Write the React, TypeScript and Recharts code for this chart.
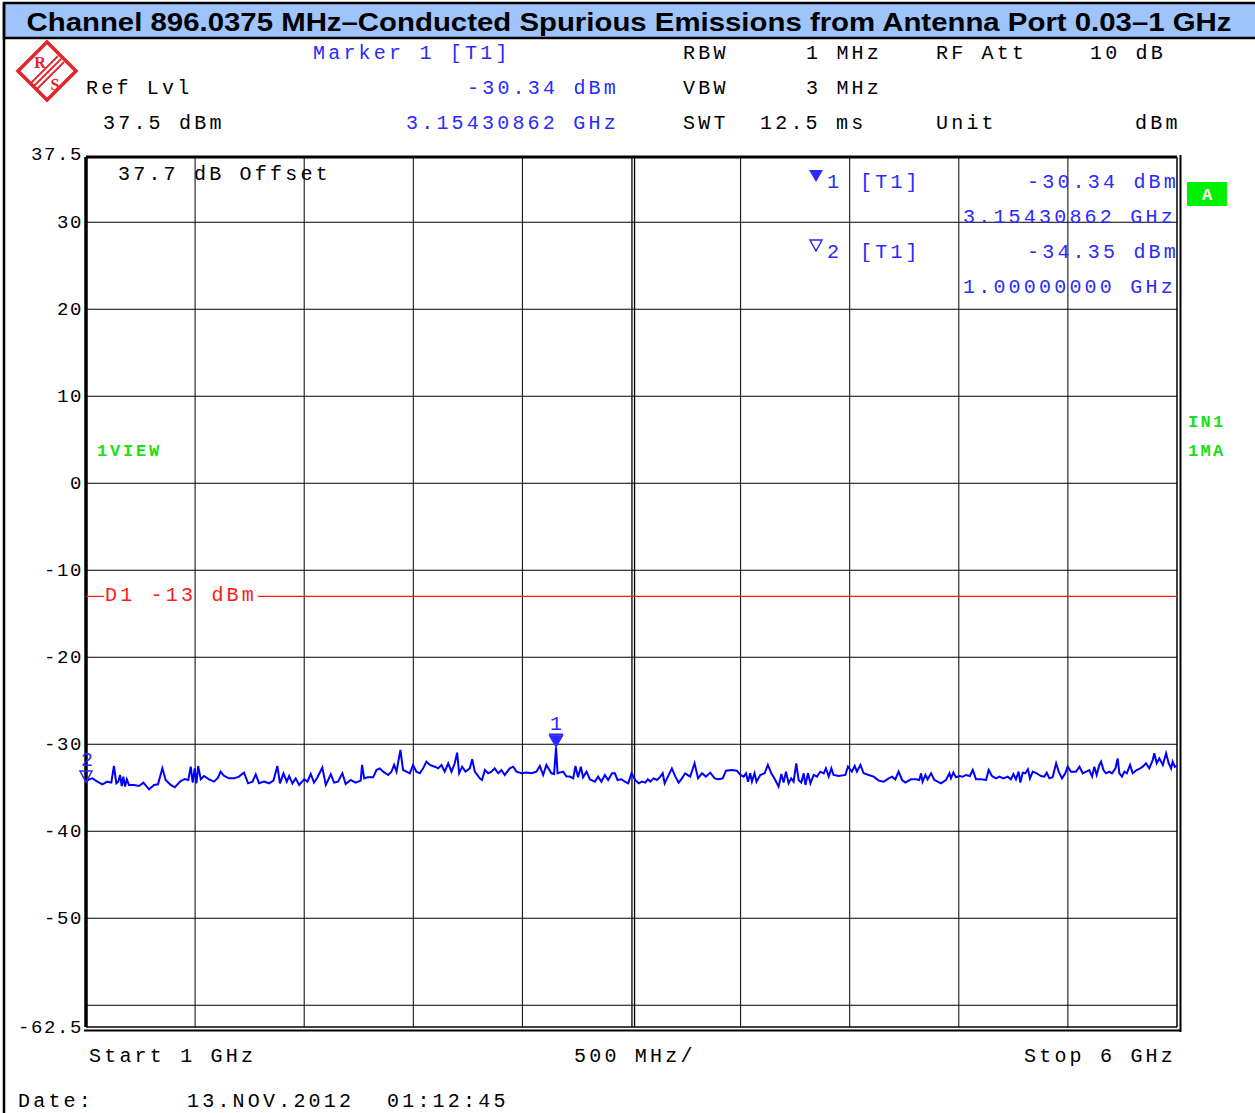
import React from "react";
import { LineChart, Line, XAxis, YAxis, ReferenceLine, ReferenceDot } from "recharts";

// ---------- data ----------
const xTicksMHz = [1000, 1500, 2000, 2500, 3000, 3500, 4000, 4500, 5000, 5500, 6000];
const yTicksDbm = [37.5, 30, 20, 10, 0, -10, -20, -30, -40, -50, -60, -62.5];
const gridXMHz = [1500, 2000, 2500, 3000, 4000, 4500, 5000, 5500];
const centerGridMHz = [3502, 3514];
const gridYDbm = [30, 20, 10, 0, -10, -20, -30, -40, -50, -60];
const displayLineDbm = -13;
const marker1 = { f: 3154.30862, level: -30.34 };
const marker2 = { f: 1000, level: -34.35 };

const traceFreqMHz = [
  1000, 1014, 1029, 1052, 1075, 1098, 1116, 1128, 1139, 1148, 1156, 1164, 1171, 1179, 1187, 1197, 1220, 1243, 1263, 1289,
  1312, 1330, 1350, 1365, 1388, 1407, 1431, 1452, 1469, 1480, 1489, 1498, 1506, 1514, 1526, 1541, 1564, 1587, 1605, 1617,
  1633, 1656, 1679, 1701, 1724, 1743, 1763, 1778, 1793, 1816, 1839, 1859, 1877, 1889, 1905, 1920, 1931, 1946, 1961, 1977,
  2000, 2015, 2030, 2045, 2061, 2083, 2099, 2122, 2137, 2155, 2175, 2190, 2213, 2236,
  2247, 2259, 2265, 2275, 2290, 2316, 2331, 2346, 2362, 2385, 2400, 2412, 2423, 2441, 2453, 2469, 2484, 2499, 2514, 2530,
  2545, 2560, 2576, 2598, 2614, 2629, 2644, 2660, 2675, 2690, 2701, 2710, 2724, 2739, 2759, 2770, 2782, 2805, 2815, 2828,
  2843, 2858, 2873, 2889, 2904, 2919, 2942, 2958, 2973, 2996, 3019, 3042, 3064, 3080, 3095, 3110, 3133, 3145, 3154.3, 3161,
  3187, 3202, 3217, 3233, 3243, 3255, 3268, 3278, 3294, 3309, 3332, 3347, 3362, 3378, 3393, 3411, 3424, 3436, 3454, 3469,
  3485, 3500,
  3517, 3533, 3548, 3563, 3575, 3586, 3601, 3617, 3632, 3643, 3652, 3667, 3685, 3701, 3716, 3731, 3746, 3769, 3789, 3805,
  3823, 3841, 3861, 3881, 3899, 3918, 3933, 3960, 3983, 3999, 4014, 4025, 4034, 4044, 4052, 4064, 4073, 4090, 4110, 4125,
  4141, 4159, 4174, 4187, 4197, 4208, 4220, 4232, 4243, 4255, 4266, 4278, 4289, 4297, 4309, 4320, 4335, 4350, 4365, 4381,
  4391, 4404, 4416, 4426, 4449, 4480, 4492, 4510, 4523, 4533, 4549, 4564, 4587, 4610, 4633, 4656, 4679, 4694, 4709, 4724,
  4740, 4755,
  4781, 4804, 4819, 4827, 4834, 4847, 4857, 4873, 4888, 4903, 4918, 4941, 4957, 4964, 4975, 4987, 5002, 5018, 5033, 5051,
  5064, 5079, 5102, 5125, 5137, 5152, 5171, 5186, 5204, 5224, 5239, 5250, 5262, 5274, 5282, 5293, 5305, 5317, 5326, 5339,
  5357, 5377, 5392, 5403, 5415, 5430, 5446, 5458, 5473, 5488, 5499, 5514, 5537, 5553, 5568, 5583, 5598, 5611, 5621, 5632,
  5644, 5652, 5663, 5675, 5690, 5702, 5718, 5728, 5736, 5748, 5759, 5770, 5785, 5797, 5815, 5831, 5843, 5858, 5873, 5889,
  5896, 5907, 5919, 5935, 5950, 5962, 5973, 5980, 5990, 6000,
];

const traceLevelDbm = [
  -34.35, -34.03, -33.92, -34.3, -34.61, -34.3, -34.41, -32.5, -34.49, -34.3, -33.53, -34.8, -33.72, -34.87, -34.03, -34.68, -34.68, -34.8, -34.41, -35.18,
  -34.68, -34.61, -32.77, -34.11, -34.68, -34.95, -34.3, -33.99, -34.11, -32.58, -34.41, -32.77, -34.49, -32.5, -34.03, -33.65, -34.03, -34.3, -33.84, -33.15,
  -33.65, -33.92, -33.92, -33.72, -33.26, -34.49, -34.3, -33.46, -34.49, -34.3, -34.49, -34.18, -32.5, -34.49, -33.34, -34.3, -33.65, -34.49, -33.92, -34.68,
  -34.03, -34.3, -33.42, -34.41, -33.8, -32.69, -34.68, -33.46, -34.41, -34.3, -33.34, -34.57, -34.11, -34.41,
  -34.3, -34.18, -32.38, -33.92, -33.8, -33.8, -32.96, -32.77, -33.15, -33.53, -33.15, -32.38, -33.15, -30.66, -32.96, -33.15, -33.34, -32.38, -33.15, -33.34,
  -32.77, -32.0, -32.38, -32.58, -32.77, -32.38, -33.15, -32.19, -33.15, -32.19, -30.97, -33.34, -32.58, -33.15, -32.77, -31.73, -33.15, -33.92, -34.11, -32.96,
  -33.34, -33.15, -32.77, -33.34, -32.96, -33.53, -32.77, -32.58, -33.15, -33.34, -33.26, -33.34, -33.15, -32.5, -33.53, -32.38, -33.34, -33.42, -30.34, -33.34,
  -33.15, -33.72, -33.72, -33.92, -32.5, -33.8, -32.58, -33.8, -33.15, -34.03, -34.3, -33.72, -34.3, -33.53, -34.11, -33.34, -33.34, -34.11, -34.03, -34.3,
  -34.49, -33.34,
  -34.11, -34.49, -34.3, -34.41, -34.03, -34.3, -33.92, -34.11, -33.72, -33.34, -34.49, -33.72, -32.77, -33.72, -34.41, -33.92, -33.34, -33.72, -32.19, -33.92,
  -33.34, -33.72, -33.26, -33.92, -34.03, -33.92, -33.04, -32.96, -33.04, -33.53, -33.72, -33.34, -34.3, -33.34, -34.3, -33.34, -34.3, -33.53, -33.34, -32.38,
  -33.34, -34.11, -34.87, -33.42, -34.41, -33.15, -34.49, -33.92, -34.3, -32.19, -34.11, -34.41, -33.34, -34.68, -33.34, -34.49, -33.53, -33.72, -33.15, -33.34,
  -32.77, -33.72, -32.77, -33.53, -33.65, -33.53, -32.58, -33.15, -32.5, -33.15, -32.38, -33.34, -33.53, -33.72, -34.18, -34.3, -33.92, -33.72, -34.03, -33.15,
  -34.11, -34.41,
  -34.03, -34.03, -34.11, -33.34, -34.3, -33.53, -34.03, -33.34, -34.11, -34.3, -34.49, -34.11, -33.34, -33.92, -33.26, -33.8, -33.65, -33.72, -33.53, -33.65,
  -32.96, -34.03, -34.03, -34.11, -32.96, -33.65, -33.92, -33.72, -33.92, -33.72, -34.03, -33.42, -34.03, -33.15, -34.41, -33.26, -33.34, -32.88, -33.92, -33.15,
  -33.34, -33.65, -33.72, -33.26, -33.92, -33.8, -32.19, -33.15, -33.92, -33.34, -32.58, -33.15, -33.15, -32.58, -33.34, -33.15, -32.96, -33.72, -32.58, -33.53,
  -32.38, -32.0, -32.96, -33.34, -33.15, -33.34, -32.77, -31.62, -33.34, -33.72, -33.15, -33.34, -32.38, -33.34, -32.96, -32.77, -32.58, -32.19, -32.77, -31.81,
  -31.04, -32.19, -31.62, -32.38, -31.04, -32.19, -32.77, -32.0, -32.58, -32.5,
];

const traceData = traceFreqMHz.map((f, i) => ({ f, level: traceLevelDbm[i] }));

// ---------- styling ----------
const MONO = '"Liberation Mono", "DejaVu Sans Mono", monospace';
const BLUE = "#2a2aff";
const GREEN = "#18e018";
const RED = "#ff1a1a";

type TProps = { x: number; y: number; c?: string; t: string; bold?: boolean; size?: number; ls?: number; anchor?: string };
const T = ({ x, y, c = "#000", t, bold, size = 20, ls = 3.2, anchor = "start" }: TProps) => (
  <text
    x={x}
    y={y}
    fill={c}
    fontFamily={MONO}
    fontSize={size}
    fontWeight={bold ? "bold" : "normal"}
    letterSpacing={ls}
    textAnchor={anchor as any}
    style={{ whiteSpace: "pre" }}
  >
    {t}
  </text>
);

const YTick = (props: any) => {
  const { x, y, payload } = props;
  if (payload.value === -60) return <g />;
  const dy = payload.value === 37.5 ? 3 : 6;
  return (
    <text x={x} y={y + dy} textAnchor="end" fontFamily={MONO} fontSize={19} letterSpacing={1.6} fill="#000">
      {String(payload.value)}
    </text>
  );
};

const Marker1Shape = (props: any) => {
  const { cx, cy } = props;
  return (
    <g>
      <polygon points={`${cx - 7},${cy - 12} ${cx + 7},${cy - 12} ${cx},${cy}`} fill={BLUE} stroke={BLUE} strokeWidth={1} />
      <line x1={cx - 7} x2={cx + 7} y1={cy - 13} y2={cy - 13} stroke={BLUE} strokeWidth={1.5} />
      <text x={cx} y={cy - 17} textAnchor="middle" fontFamily={MONO} fontSize={20} fill={BLUE}>1</text>
    </g>
  );
};

const Marker2Shape = (props: any) => {
  const { cx, cy } = props;
  return (
    <g>
      <polygon points={`${cx - 6},${cy - 11} ${cx + 6},${cy - 11} ${cx},${cy}`} fill="none" stroke={BLUE} strokeWidth={1.5} />
      <text x={cx + 1} y={cy - 16} textAnchor="middle" fontFamily={MONO} fontSize={20} fill={BLUE}>2</text>
    </g>
  );
};

const Logo = () => (
  <g>
    <polygon points="47,42 76,71 47,100 18,71" fill="#fff" stroke="#e3242b" strokeWidth={3.5} strokeLinejoin="miter" />
    <line x1={31} y1={83} x2={58} y2={56} stroke="#e3242b" strokeWidth={1.8} />
    <line x1={34} y1={86} x2={61} y2={59} stroke="#e3242b" strokeWidth={1.8} />
    <line x1={37} y1={89} x2={64} y2={62} stroke="#e3242b" strokeWidth={1.8} />
    <text x={40} y={68} textAnchor="middle" fontFamily='"Liberation Serif", serif' fontSize={16} fill="#e3242b" fontWeight="bold">R</text>
    <text x={55} y={90} textAnchor="middle" fontFamily='"Liberation Serif", serif' fontSize={16} fill="#e3242b" fontWeight="bold">S</text>
  </g>
);

export default function App() {
  return (
    <div style={{ position: "absolute", left: 0, top: 0, width: 1255, height: 1113, background: "#fff", overflow: "hidden" }}>
      {/* background frame, title and header */}
      <svg width={1255} height={1113} style={{ position: "absolute", left: 0, top: 0 }}>
        <rect x={4} y={3} width={1260} height={35} fill="#9fc4fc" stroke="#000" strokeWidth={2.5} />
        <line x1={4} y1={3} x2={4} y2={1113} stroke="#000" strokeWidth={2.5} />
        <text
          x={629}
          y={31}
          textAnchor="middle"
          fontFamily='"Liberation Sans", Arial, sans-serif'
          fontWeight="bold"
          fontSize={26}
          textLength={1205}
          lengthAdjust="spacingAndGlyphs"
          fill="#000"
        >
          Channel 896.0375 MHz–Conducted Spurious Emissions from Antenna Port 0.03–1 GHz
        </text>
        <Logo />
        <T x={313} y={59} c={BLUE} t="Marker 1 [T1]" />
        <T x={683} y={59} t="RBW" />
        <T x={806} y={59} t="1 MHz" />
        <T x={936} y={59} t="RF Att" />
        <T x={1090} y={59} t="10 dB" />
        <T x={86} y={94} t="Ref Lvl" />
        <T x={467} y={94} c={BLUE} t="-30.34 dBm" />
        <T x={683} y={94} t="VBW" />
        <T x={806} y={94} t="3 MHz" />
        <T x={103} y={129} t="37.5 dBm" />
        <T x={406} y={129} c={BLUE} t="3.15430862 GHz" />
        <T x={683} y={129} t="SWT" />
        <T x={760} y={129} t="12.5 ms" />
        <T x={936} y={129} t="Unit" />
        <T x={1135} y={129} t="dBm" />
        <T x={89} y={1062} t="Start 1 GHz" />
        <T x={574} y={1062} t="500 MHz/" />
        <T x={1024} y={1062} t="Stop 6 GHz" />
        <T x={18} y={1107} t="Date:" />
        <T x={187} y={1107} t="13.NOV.2012" />
        <T x={387} y={1107} t="01:12:45" />
        <rect x={1187} y={182} width={40} height={24} fill="#00f000" />
        <text x={1207} y={200} textAnchor="middle" fontFamily={MONO} fontWeight="bold" fontSize={17} fill="#fff">A</text>
        <T x={1188} y={427} c={GREEN} t="IN1" bold size={17} ls={2.3} />
        <T x={1188} y={456} c={GREEN} t="1MA" bold size={17} ls={2.3} />
      </svg>

      {/* chart */}
      <div style={{ position: "absolute", left: 0, top: 0 }}>
        <LineChart width={1255} height={1113} data={traceData} margin={{ top: 157, right: 78, bottom: 86, left: 6 }}>
          <XAxis dataKey="f" type="number" domain={[1000, 6000]} ticks={xTicksMHz} hide allowDataOverflow />
          <YAxis
            type="number"
            domain={[-62.5, 37.5]}
            ticks={yTicksDbm}
            interval={0}
            width={80}
            axisLine={false}
            tickLine={false}
            tickSize={0}
            tickMargin={3}
            tick={<YTick />}
            allowDataOverflow
          />
          {gridXMHz.map((v) => (
            <ReferenceLine key={"gx" + v} x={v} stroke="#000" strokeWidth={1} />
          ))}
          {centerGridMHz.map((v) => (
            <ReferenceLine key={"gc" + v} x={v} stroke="#000" strokeWidth={1.3} />
          ))}
          {gridYDbm.map((v) => (
            <ReferenceLine key={"gy" + v} y={v} stroke="#000" strokeWidth={1} />
          ))}
          <ReferenceLine x={1000} stroke="#000" strokeWidth={3.5} />
          <ReferenceLine x={6000} stroke="#000" strokeWidth={1.5} />
          <ReferenceLine y={37.5} stroke="#000" strokeWidth={3} />
          <ReferenceLine y={-62.5} stroke="#000" strokeWidth={1.5} />
          <ReferenceLine
            segment={[{ x: 1000, y: displayLineDbm }, { x: 1082, y: displayLineDbm }]}
            stroke={RED}
            strokeWidth={1.2}
          />
          <ReferenceLine
            segment={[{ x: 1788, y: displayLineDbm }, { x: 6000, y: displayLineDbm }]}
            stroke={RED}
            strokeWidth={1.2}
          />
          <Line
            type="linear"
            dataKey="level"
            stroke="#0000ff"
            strokeWidth={2}
            dot={false}
            isAnimationActive={false}
          />
          <ReferenceDot x={marker1.f} y={marker1.level} r={0} shape={<Marker1Shape />} />
          <ReferenceDot x={marker2.f} y={marker2.level} r={0} shape={<Marker2Shape />} />
        </LineChart>
      </div>

      {/* annotations inside the plot and outer frame lines */}
      <svg width={1255} height={1113} style={{ position: "absolute", left: 0, top: 0, pointerEvents: "none" }}>
        <line x1={1180.5} y1={155} x2={1180.5} y2={1032} stroke="#000" strokeWidth={2} />
        <line x1={84} y1={1030.5} x2={1181} y2={1030.5} stroke="#000" strokeWidth={2} />
        <T x={118} y={180} t="37.7 dB Offset" />
        <T x={105} y={601} c={RED} t="D1 -13 dBm" />
        <T x={97} y={456} c={GREEN} t="1VIEW" bold size={17} ls={2.8} />
        <polygon points="809,170 823,170 816,182" fill={BLUE} />
        <T x={827} y={188} c={BLUE} t="1" />
        <T x={860} y={188} c={BLUE} t="[T1]" />
        <T x={1027} y={188} c={BLUE} t="-30.34 dBm" />
        <T x={963} y={223} c={BLUE} t="3.15430862 GHz" />
        <polygon points="810,240 822,240 816,251" fill="none" stroke={BLUE} strokeWidth={1.5} />
        <T x={827} y={258} c={BLUE} t="2" />
        <T x={860} y={258} c={BLUE} t="[T1]" />
        <T x={1027} y={258} c={BLUE} t="-34.35 dBm" />
        <T x={963} y={293} c={BLUE} t="1.00000000 GHz" />
      </svg>
    </div>
  );
}
